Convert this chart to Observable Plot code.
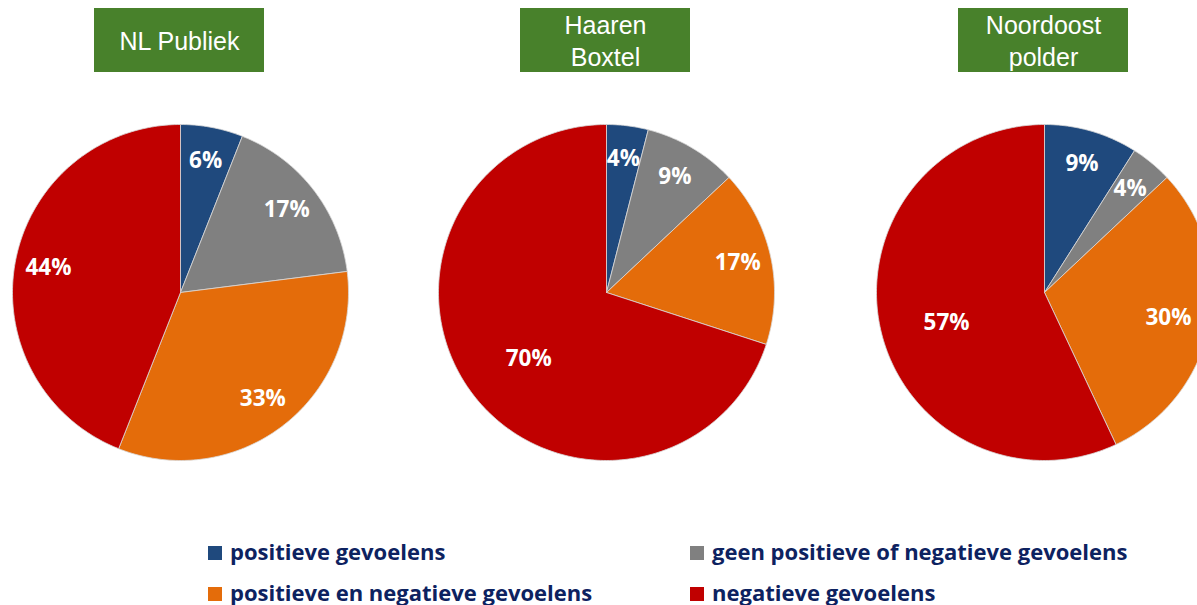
<!DOCTYPE html>
<html><head><meta charset="utf-8">
<script src="https://cdn.jsdelivr.net/npm/d3@7"></script>
<script src="https://cdn.jsdelivr.net/npm/@observablehq/plot@0.6"></script>
<style>
html,body{margin:0;padding:0;background:#fff;overflow:hidden;width:1197px;height:605px;}
#chart{position:absolute;left:0;top:0;}
.leg{position:absolute;font-family:"Open Sans",sans-serif;font-weight:bold;font-size:22px;color:#0d2260;white-space:nowrap;line-height:24px;}
.leg span.sw{display:inline-block;width:14px;height:14px;margin-right:8px;vertical-align:0px;}
</style></head>
<body>
<div id="chart"></div>
<div id="legend"></div>
<script>
const regions = ["NL Publiek", "Haaren\nBoxtel", "Noordoost\npolder"];
const categories = ["positieve gevoelens", "geen positieve of negatieve gevoelens", "positieve en negatieve gevoelens", "negatieve gevoelens"];
const nlPubliek = [6, 17, 33, 44];
const haarenBoxtel = [4, 9, 17, 70];
const noordoostPolder = [9, 4, 30, 57];
const colors = ["#1f497d", "#808080", "#e46c0a", "#c00000"];

const series = [nlPubliek, haarenBoxtel, noordoostPolder];
const W = 1197, H = 520;
const centers = [[180, 292], [606, 292], [1044, 292]];
const R = 168;

const poly = [];
const labels = [];
series.forEach((vals, pi) => {
  const [cx, cy] = centers[pi];
  const total = d3.sum(vals);
  let acc = 0;
  vals.forEach((v, ci) => {
    const a0 = acc / total * 2 * Math.PI;
    acc += v;
    const a1 = acc / total * 2 * Math.PI;
    const id = pi + "-" + ci;
    poly.push({id, cat: categories[ci], x: cx, y: cy});
    const n = Math.max(2, Math.ceil((a1 - a0) / (Math.PI / 180)));
    for (let k = 0; k <= n; k++) {
      const a = a0 + (a1 - a0) * k / n;
      poly.push({id, cat: categories[ci], x: cx + R * Math.sin(a), y: cy - R * Math.cos(a)});
    }
    poly.push({id, cat: categories[ci], x: cx, y: cy});
    const am = (a0 + a1) / 2;
    const big = v / total >= 0.5;
    const rf = big ? 0.61 : 0.8;
    const ang = big ? am - 0.08 : am;
    const lx = Math.min(cx + R * rf * Math.sin(ang), W - 29);
    labels.push({x: lx, y: cy - R * rf * Math.cos(ang), text: v + "%"});
  });
});

const titles = regions.map((t, i) => ({text: t, x1: centers[i][0] - 86, x2: centers[i][0] + 84, y1: 8, y2: 72, xm: centers[i][0] - 1, ym: 40}));

const plot = Plot.plot({
  width: W, height: H,
  margin: 0,
  x: {type: "linear", domain: [0, W], range: [0, W], axis: null},
  y: {type: "linear", domain: [0, H], range: [0, H], axis: null},
  color: {domain: categories, range: colors},
  style: {overflow: "hidden"},
  marks: [
    Plot.line(poly, {x: "x", y: "y", z: "id", fill: "cat", stroke: "#d9d9d9", strokeWidth: 0.8, curve: "linear"}),
    Plot.text(labels, {x: "x", y: "y", text: "text", fill: "white", fontSize: 22.5, fontWeight: "bold", fontFamily: "'Open Sans', sans-serif"}),
    Plot.rect(titles, {x1: "x1", x2: "x2", y1: "y1", y2: "y2", fill: "#48812b"}),
    Plot.text(titles, {x: "xm", y: "ym", text: "text", fill: "white", fontSize: 25, lineHeight: 1.3, fontFamily: "'Liberation Sans', Arial, sans-serif", dy: -1})
  ]
});
document.getElementById("chart").appendChild(plot);

const legPos = [[208, 539], [690, 539], [208, 580], [690, 580]];
const leg = document.getElementById("legend");
categories.forEach((c, i) => {
  const d = document.createElement("div");
  d.className = "leg";
  d.style.left = legPos[i][0] + "px";
  d.style.top = legPos[i][1] + "px";
  d.innerHTML = `<span class="sw" style="background:${colors[i]}"></span>` + c;
  leg.appendChild(d);
});
</script>
</body></html>
